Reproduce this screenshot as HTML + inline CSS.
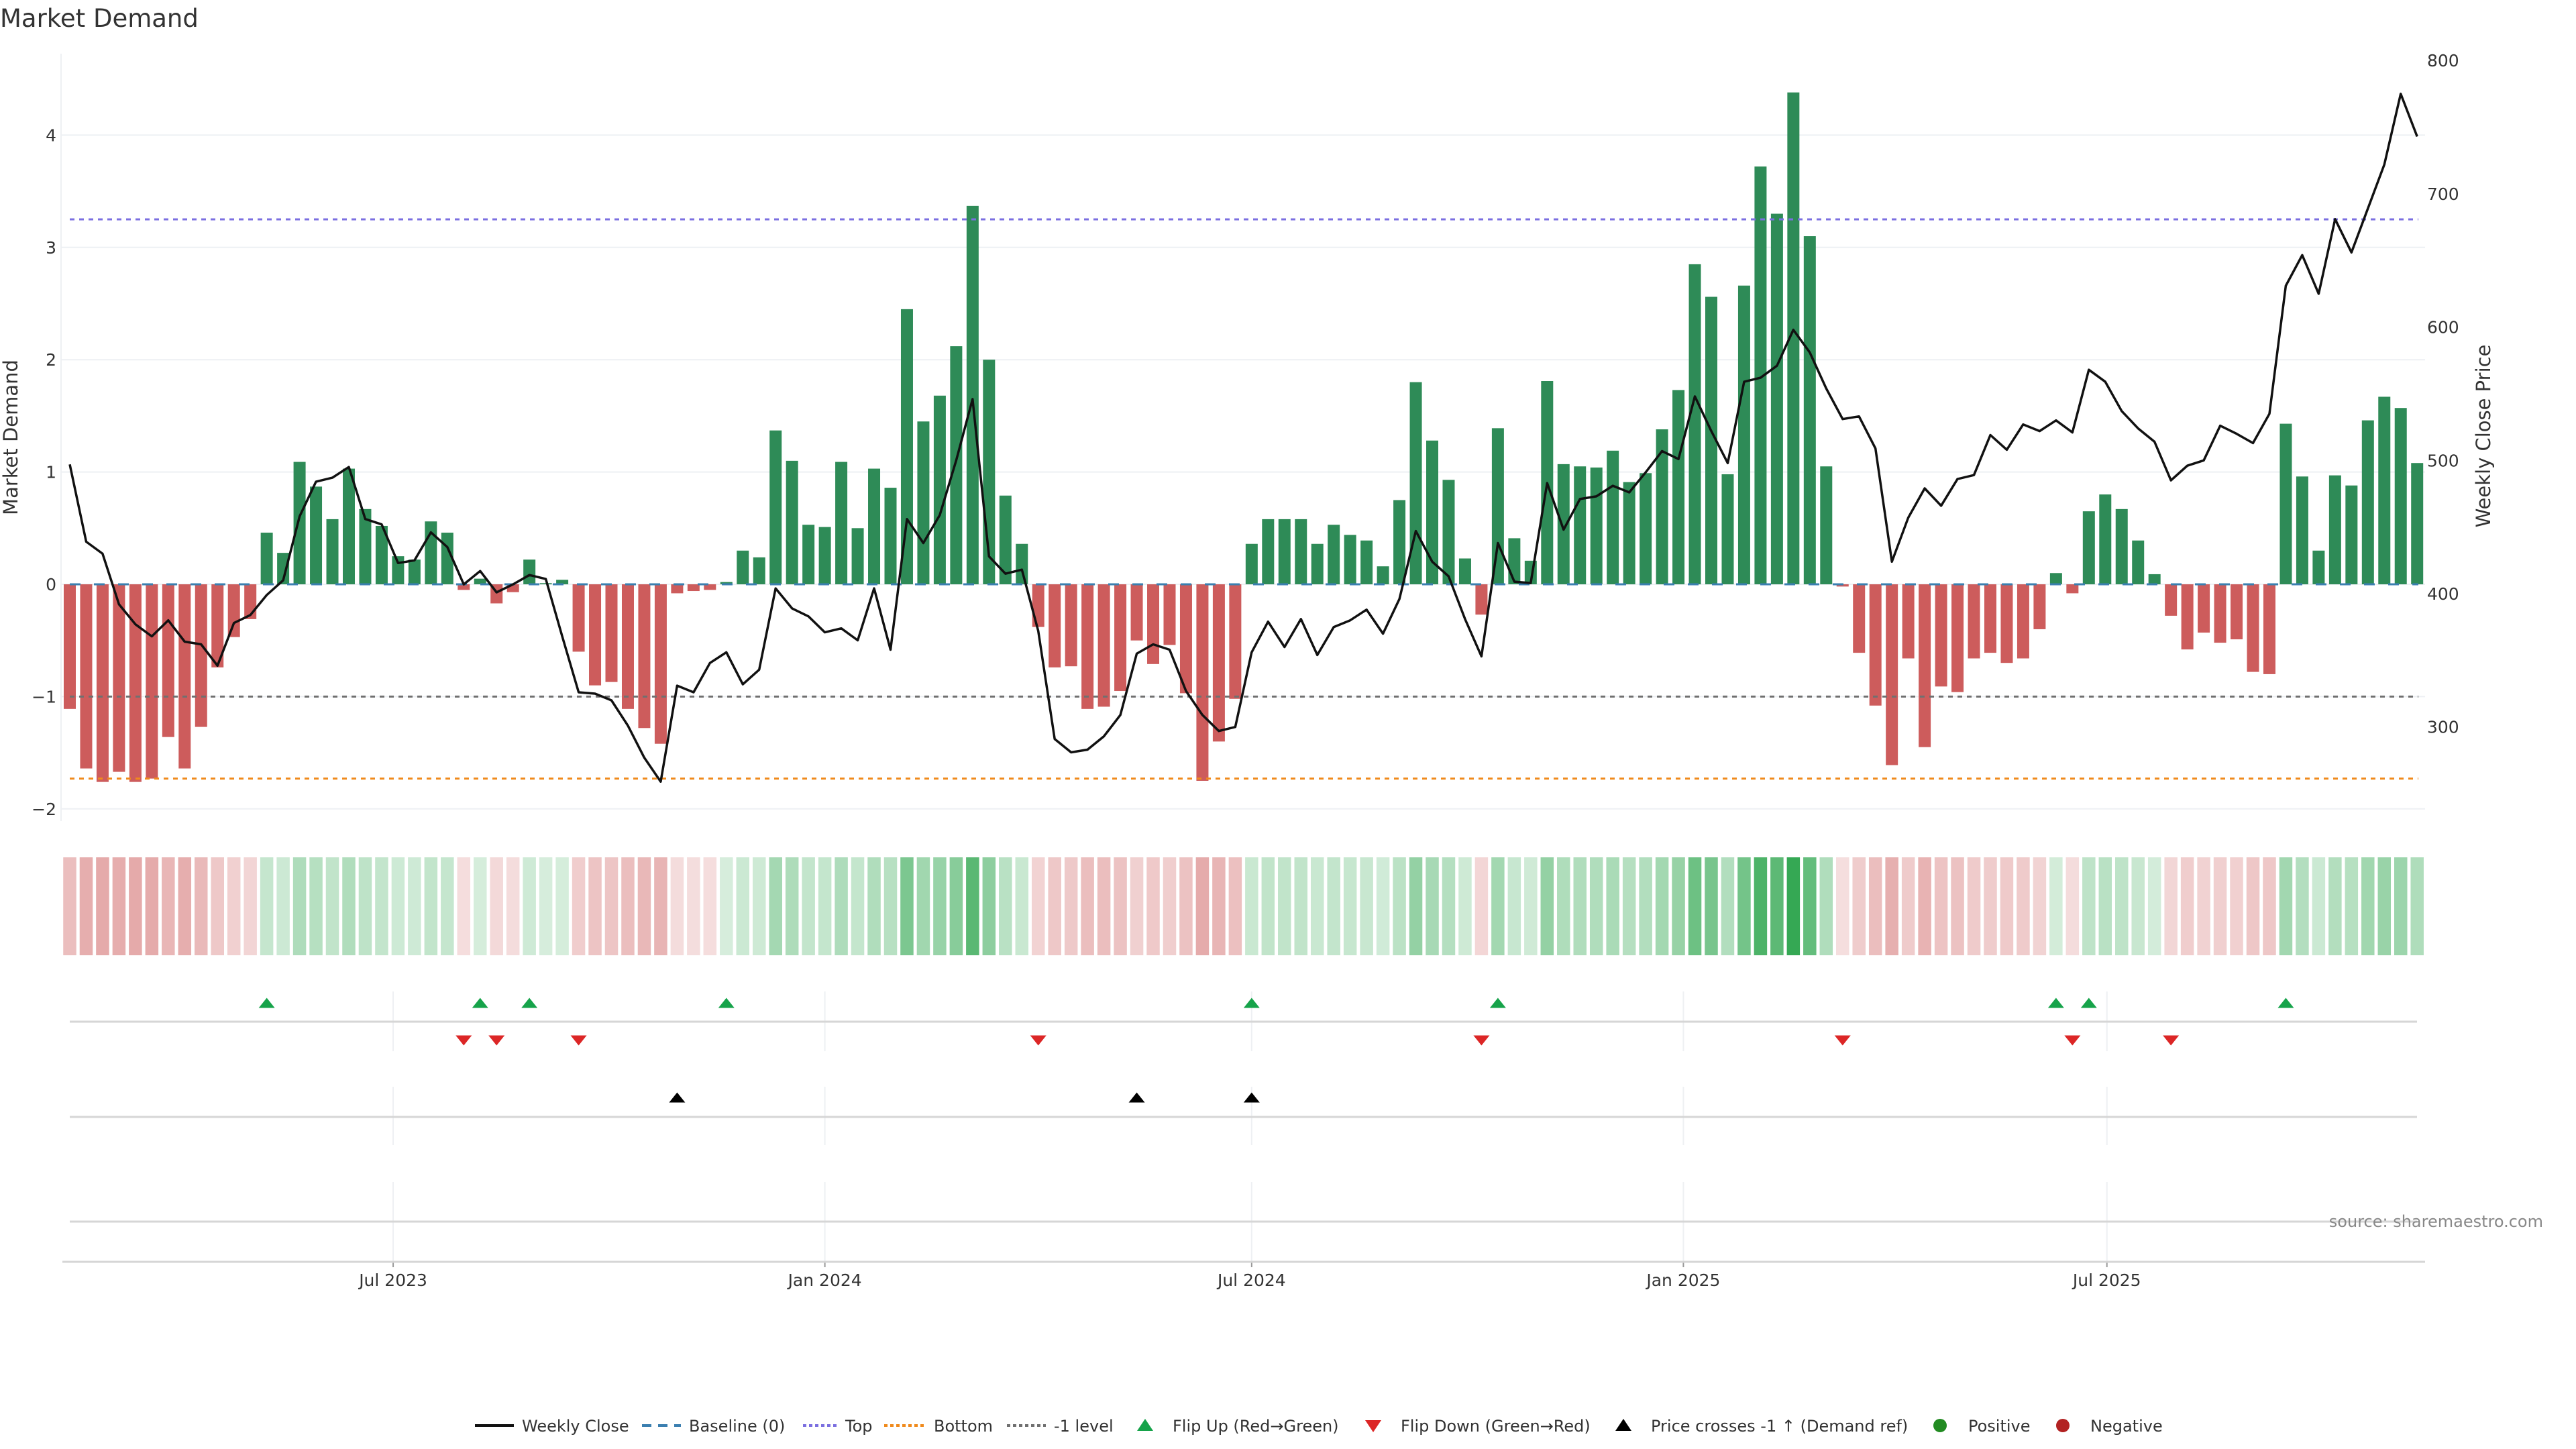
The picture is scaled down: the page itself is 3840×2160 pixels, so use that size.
<!DOCTYPE html>
<html><head><meta charset="utf-8"><title>Market Demand</title>
<style>
html,body{margin:0;padding:0;background:#fff;}
svg{display:block;}
text{font-family:"DejaVu Sans","Liberation Sans",sans-serif;fill:#333;}
</style></head>
<body>
<svg id="chart" width="3840" height="2160" viewBox="0 0 3840 2160" xmlns="http://www.w3.org/2000/svg">
<rect width="3840" height="2160" fill="#fff"/>
<text x="0" y="40" font-size="37">Market Demand</text>
<g id="grid"></g>
<g id="bars"></g>
<g id="refs"></g>
<g id="price"></g>
<g id="heat"></g>
<g id="axes"></g>
<g id="events"></g>
<g id="legend"></g>
<text x="3791" y="1829" font-size="24" text-anchor="end" fill="#888" style="fill:#888">source: sharemaestro.com</text>
</svg>
<script>
const demand = [-1.11,-1.64,-1.76,-1.67,-1.76,-1.73,-1.36,-1.64,-1.27,-0.74,-0.47,-0.31,0.46,0.28,1.09,0.87,0.58,1.03,0.67,0.52,0.25,0.22,0.56,0.46,-0.05,0.05,-0.17,-0.07,0.22,0.01,0.04,-0.60,-0.90,-0.87,-1.11,-1.28,-1.42,-0.08,-0.06,-0.05,0.02,0.30,0.24,1.37,1.10,0.53,0.51,1.09,0.50,1.03,0.86,2.45,1.45,1.68,2.12,3.37,2.00,0.79,0.36,-0.38,-0.74,-0.73,-1.11,-1.09,-0.95,-0.50,-0.71,-0.54,-0.97,-1.75,-1.40,-1.02,0.36,0.58,0.58,0.58,0.36,0.53,0.44,0.39,0.16,0.75,1.80,1.28,0.93,0.23,-0.27,1.39,0.41,0.21,1.81,1.07,1.05,1.04,1.19,0.91,0.99,1.38,1.73,2.85,2.56,0.98,2.66,3.72,3.30,4.38,3.10,1.05,-0.02,-0.61,-1.08,-1.61,-0.66,-1.45,-0.91,-0.96,-0.66,-0.61,-0.70,-0.66,-0.40,0.10,-0.08,0.65,0.80,0.67,0.39,0.09,-0.28,-0.58,-0.43,-0.52,-0.49,-0.78,-0.80,1.43,0.96,0.30,0.97,0.88,1.46,1.67,1.57,1.08];
const closes = [497,439,430,392,377,368,380,364,362,346,378,384,399,410,458,484,487,495,456,452,423,425,446,435,407,417,401,407,414,411,368,326,325,320,301,277,259,331,326,348,356,332,343,404,389,383,371,374,365,404,358,456,438,459,500,546,428,415,418,372,291,281,283,293,309,355,362,358,327,309,297,300,356,379,360,381,354,375,380,388,370,396,447,424,413,381,353,438,409,408,483,448,471,473,481,476,491,507,501,548,522,498,559,562,571,598,581,554,531,533,509,424,457,479,466,486,489,519,508,527,522,530,521,568,559,537,524,514,485,496,500,526,520,513,535,631,654,625,681,656,689,722,775,743];
const crossIdx = [37,65,72];
const demandTicks = [-2,-1,0,1,2,3,4];
const priceTicks = [300,400,500,600,700,800];
const dateTicks = ["Jul 2023","Jan 2024","Jul 2024","Jan 2025","Jul 2025"];
const dateTickWeek = [19.7,46.0,72.0,98.3,124.1];
const topLevel = 3.25, bottomLevel = -1.73, minusOne = -1;

const NS="http://www.w3.org/2000/svg";
function mk(parent,tag,attrs,txt){const e=document.createElementNS(NS,tag);for(const k in attrs)e.setAttribute(k,attrs[k]);if(txt!==undefined)e.textContent=txt;document.getElementById(parent).appendChild(e);return e;}
const X0=104, DX=24.47, L=91, R=3615;
const x=i=>X0+DX*i;
const y=v=>871-167.4*v;
const yp=p=>885-1.987*(p-400);

demandTicks.forEach(t=>{
 const g=mk('grid','line',{x1:L,x2:R,y1:y(t),y2:y(t),stroke:'#edf0f4','stroke-width':2});
 
 
 const lb=mk('axes','text',{x:84,y:y(t)+9,'font-size':25,'text-anchor':'end'},(t<0?'\u2212'+Math.abs(t):String(t)));
 
 
});
priceTicks.forEach(t=>{
 const lb=mk('axes','text',{x:3618,y:yp(t)+9,'font-size':25},String(t));
 
 
});
mk('axes','line',{x1:L,x2:L,y1:80,y2:1224,stroke:'#eef0f3','stroke-width':2});
const yt=mk('axes','text',{x:0,y:0,'font-size':29,'text-anchor':'middle',transform:'translate(26,652) rotate(-90)'},'Market Demand');


const yt2=mk('axes','text',{x:0,y:0,'font-size':29,'text-anchor':'middle',transform:'translate(3712,650) rotate(-90)'},'Weekly Close Price');



demand.forEach((v,i)=>{
 const top=Math.min(y(v),y(0)), h=Math.max(Math.abs(y(v)-y(0)),1);
 const b=mk('bars','rect',{x:x(i)-9,y:top,width:18,height:h,fill:v>=0?'#2e8b57':'#cd5c5c'});
 
 
});
function ref(v,col,dash,name){const l=mk('refs','line',{x1:X0,x2:3605,y1:y(v),y2:y(v),stroke:col,'stroke-width':3,'stroke-dasharray':dash});
 
 }
ref(0,'#3b7fb0','16,20','baseline-line');
ref(topLevel,'#7b6fe0','7,7','top-line');
ref(bottomLevel,'#f08a1c','7,7','bottom-line');
ref(minusOne,'#707070','7,7','minus-one-line');
const pl=mk('price','polyline',{points:closes.map((p,i)=>x(i).toFixed(1)+','+yp(p).toFixed(1)).join(' '),fill:'none',stroke:'#111','stroke-width':3.5,'stroke-linejoin':'round'});



demand.forEach((v,i)=>{
 const a=Math.min(1,0.2+0.8*Math.abs(v)/4.4);
 const base=v>=0?[52,168,83]:[205,92,92];
 const c=base.map(b=>Math.round(255-a*(255-b)));
 const r=mk('heat','rect',{x:x(i)-9.75,y:1278,width:19.5,height:146,fill:`rgb(${c})`});
 
 
});

dateTicks.forEach((t,k)=>{
 const xx=x(dateTickWeek[k]);
 [[1478,1567],[1620,1707],[1762,1881]].forEach(s=>mk('grid','line',{x1:xx,x2:xx,y1:s[0],y2:s[1],stroke:'#eef0f3','stroke-width':2}));
 mk('axes','line',{x1:xx,x2:xx,y1:1881,y2:1889,stroke:'#999','stroke-width':2});
 const lb=mk('axes','text',{x:xx,y:1917,'font-size':25,'text-anchor':'middle'},t);
 
 
});
[1523,1665,1821].forEach(yy=>mk('axes','line',{x1:X0,x2:3603,y1:yy,y2:yy,stroke:'#d6d6d6','stroke-width':3}));
mk('axes','line',{x1:93,x2:3615,y1:1881,y2:1881,stroke:'#d6d6d6','stroke-width':3});

function tri(cx,cy,up,col,name){const w=12,h=15;
 const pts=up?`${cx-w},${cy+h/2} ${cx+w},${cy+h/2} ${cx},${cy-h/2}`:`${cx-w},${cy-h/2} ${cx+w},${cy-h/2} ${cx},${cy+h/2}`;
 const t=mk('events','polygon',{points:pts,fill:col});
 
 }
for(let i=1;i<demand.length;i++){
 if(demand[i]>=0&&demand[i-1]<0) tri(x(i),1495,true,'#16a34a','flip-up-marker');
 if(demand[i]<0&&demand[i-1]>=0) tri(x(i),1551,false,'#dc2626','flip-down-marker');
}
crossIdx.forEach(i=>tri(x(i),1636,true,'#000','price-cross-marker'));

const LY=2125;
function lgLine(x1,x2,col,dash,w){mk('legend','line',{x1:x1,x2:x2,y1:LY,y2:LY,stroke:col,'stroke-width':w,'stroke-dasharray':dash});}
function lgText(xx,t,name){const e=mk('legend','text',{x:xx,y:LY+9,'font-size':24},t);
 
 }
lgLine(708,766,'#111','none',4); lgText(778,'Weekly Close','legend-weekly-close');
lgLine(957,1015,'#3b7fb0','14,10',4); lgText(1027,'Baseline (0)','legend-baseline');
lgLine(1197,1247,'#7b6fe0','5,4',4); lgText(1260,'Top','legend-top');
lgLine(1318,1380,'#f08a1c','5,4',4); lgText(1392,'Bottom','legend-bottom');
lgLine(1501,1559,'#707070','5,4',4); lgText(1571,'-1 level','legend-minus-one');
mk('legend','polygon',{points:`1695,${LY+8} 1719,${LY+8} 1707,${LY-10}`,fill:'#16a34a'}); lgText(1748,'Flip Up (Red\u2192Green)','legend-flip-up');
mk('legend','polygon',{points:`2035,${LY-8} 2059,${LY-8} 2047,${LY+10}`,fill:'#dc2626'}); lgText(2088,'Flip Down (Green\u2192Red)','legend-flip-down');
mk('legend','polygon',{points:`2408,${LY+8} 2432,${LY+8} 2420,${LY-10}`,fill:'#000'}); lgText(2461,'Price crosses -1 \u2191 (Demand ref)','legend-price-cross');
mk('legend','circle',{cx:2892,cy:LY,r:10,fill:'#228b22'}); lgText(2934,'Positive','legend-positive');
mk('legend','circle',{cx:3075,cy:LY,r:10,fill:'#b22222'}); lgText(3116,'Negative','legend-negative');
</script>
</body></html>
